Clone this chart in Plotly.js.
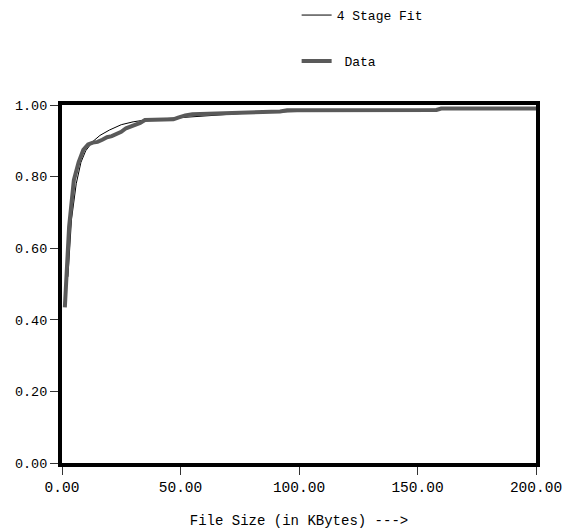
<!DOCTYPE html>
<html>
<head>
<meta charset="utf-8">
<script src="https://cdn.plot.ly/plotly-3.0.1.min.js"></script>
<style>html,body{margin:0;padding:0;background:#fff;}#chart{width:563px;height:529px;}</style>
</head>
<body>
<div id="chart"></div>
<script>
// Cumulative fraction of files vs file size (KBytes)
const dataSize = [1.2, 3, 5, 7, 9, 11, 13, 15, 17, 19, 21, 23, 25, 27, 29, 31, 33, 35, 40, 43, 47, 49, 52, 55, 60, 63, 70, 78, 80, 92, 95, 110, 150, 158, 160, 200];
const dataFrac = [0.435, 0.66, 0.79, 0.84, 0.875, 0.89, 0.895, 0.897, 0.903, 0.91, 0.913, 0.918, 0.925, 0.935, 0.94, 0.943, 0.95, 0.958, 0.959, 0.96, 0.96, 0.965, 0.971, 0.974, 0.975, 0.978, 0.978, 0.979, 0.981, 0.982, 0.985, 0.985, 0.986, 0.986, 0.99, 0.99];

// Four-stage model fit
const fitSize = [2.5, 4, 6, 8, 10, 13, 16, 20, 25, 30, 35, 45, 55, 65, 75, 90, 110, 140, 170, 200];
const fitFrac = [0.52, 0.68, 0.78, 0.84, 0.872, 0.898, 0.915, 0.93, 0.945, 0.953, 0.958, 0.963, 0.968, 0.972, 0.976, 0.98, 0.984, 0.987, 0.989, 0.99];

const xTicks = [0, 50, 100, 150, 200];
const yTicks = [0, 0.2, 0.4, 0.6, 0.8, 1.0];

const mono = "Liberation Mono, Courier New, monospace";

const traces = [
  {
    x: fitSize, y: fitFrac, mode: "lines", name: "4 Stage Fit",
    line: {color: "#000000", width: 1}, legendgroup: "a"
  },
  {
    x: dataSize, y: dataFrac, mode: "lines", name: " Data",
    line: {color: "#5a5a5a", width: 4}, legendgroup: "b"
  }
];

const axisCommon = {
  showgrid: false, zeroline: false,
  showline: true, linecolor: "#000", linewidth: 4, mirror: true,
  ticks: "outside", ticklen: 8, tickwidth: 1, tickcolor: "#333",
  tickformat: ".2f"
};

const layout = {
  width: 563, height: 529,
  margin: {l: 62, r: 27, t: 105, b: 65.5, autoexpand: false},
  paper_bgcolor: "#fff", plot_bgcolor: "#fff",
  font: {family: mono, size: 13, color: "#000"},
  showlegend: true,
  legend: {
    x: 0.495, y: 1.293, xanchor: "left", yanchor: "top",
    bgcolor: "rgba(0,0,0,0)", tracegroupgap: 26,
    font: {family: mono, size: 13, color: "#000"}
  },
  xaxis: Object.assign({}, axisCommon, {
    range: [0, 200], tickvals: xTicks,
    tickfont: {family: mono, size: 14.5, color: "#000"},
    title: {text: "File Size (in KBytes) --->", font: {family: mono, size: 14}, standoff: 22}
  }),
  yaxis: Object.assign({}, axisCommon, {
    range: [0, 1], tickvals: yTicks,
    tickfont: {family: mono, size: 13.5, color: "#000"}
  })
};

Plotly.newPlot("chart", traces, layout, {displayModeBar: false, staticPlot: true});
</script>
</body>
</html>
